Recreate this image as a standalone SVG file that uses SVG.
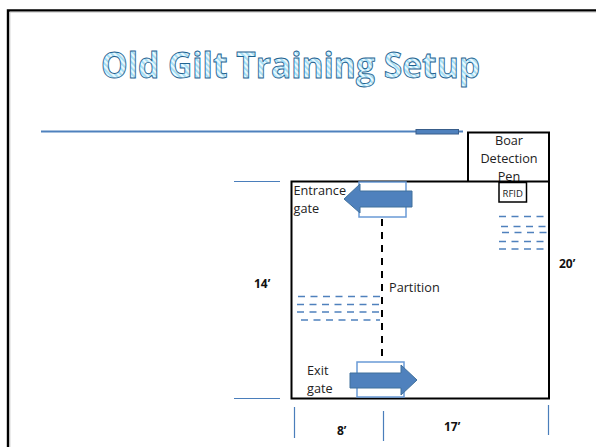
<svg xmlns="http://www.w3.org/2000/svg" width="596" height="447" viewBox="0 0 596 447">
<style>
text{font-family:"Open Sans","Noto Sans","Liberation Sans",sans-serif;fill:#222;font-size:12.700px}
.b{font-weight:700;fill:#111;font-size:12px}
.wall{fill:none;stroke:#000;stroke-width:2}
.dim{stroke:#4a7ebb;stroke-width:1.200;fill:none}
.dash{stroke:#4f81bd;stroke-width:1.600;stroke-dasharray:7 5.500;fill:none}
.gate{fill:#fff;stroke:#6a9ad6;stroke-width:1.500}
.arrow{fill:#4f81bd;stroke:#41719c;stroke-width:1}
</style>
<defs>
<pattern id="stripes" width="4" height="4" patternUnits="userSpaceOnUse" patternTransform="rotate(-45)">
<rect width="4" height="4" fill="#eaf8fd"/><rect width="1.800" height="4" fill="#9fdcf5"/>
</pattern>
</defs>
<rect width="596" height="447" fill="#fff"/>
<path d="M8 447V10.500H596" fill="none" stroke="#000" stroke-width="2.400"/>
<path d="M9.800 447V12H596" fill="none" stroke="#bbb" stroke-width="1"/>
<text id="title" x="101" y="78" textLength="379" lengthAdjust="spacingAndGlyphs" style="font-size:35px;font-weight:700;fill:url(#stripes);stroke:#1f6391;stroke-width:0.900">Old Gilt Training Setup</text>
<g id="connectors">
<path d="M41 131.500H463" stroke="#4f81bd" stroke-width="1.800" fill="none"/>
<rect x="416" y="129.500" width="42.500" height="4.500" fill="#4f81bd" stroke="#385d8a" stroke-width="1"/>
<path class="dim" d="M234 181.500H280M234 398.500H280M294.500 407V438M383.500 411V441M548.500 405V435"/>
<path d="M382 219V358" stroke="#000" stroke-width="2" stroke-dasharray="7 6" fill="none"/>
</g>
<g id="boar-pen">
<path class="wall" d="M468 181V132.500H549V181"/>
<text x="509" y="145" text-anchor="middle">Boar</text>
<text x="509" y="163" text-anchor="middle">Detection</text>
<text x="509" y="181" text-anchor="middle">Pen</text>
</g>
<g id="main-pen">
<rect class="wall" x="291.500" y="181.500" width="257.500" height="217"/>
</g>
<g id="rfid">
<rect x="499" y="182.500" width="27.500" height="19.500" fill="#fff" stroke="#000" stroke-width="1.500"/>
<text x="512.700" y="197" text-anchor="middle" style="font-size:9.500px">RFID</text>
</g>
<g id="feeders-right">
<path class="dash" d="M499 216.500H546M501 226.500H547M502 232.500H548M499 241.500H546M499 249H546"/>
</g>
<g id="feeders-left">
<path class="dash" d="M298 296.500H382M297 304.500H382M297 312H382M301 320H380"/>
</g>
<g id="entrance-gate">
<rect class="gate" x="359" y="182" width="47" height="35"/>
<path class="arrow" d="M344 199L360 184V191H412V207H360V213Z"/>
<text x="293.500" y="195">Entrance</text>
<text x="293.500" y="213">gate</text>
</g>
<g id="partition-label"><text x="389" y="292">Partition</text></g>
<g id="exit-gate">
<rect class="gate" x="357" y="362" width="47" height="35"/>
<path class="arrow" d="M350 373H401V365L417 380L401 395V388H350Z"/>
<text x="307" y="375">Exit</text>
<text x="307" y="393">gate</text>
</g>
<g id="dimensions">
<text class="b" x="254" y="288">14’</text>
<text class="b" x="559" y="268">20’</text>
<text class="b" x="337" y="435">8’</text>
<text class="b" x="444" y="431">17’</text>
</g>
</svg>
